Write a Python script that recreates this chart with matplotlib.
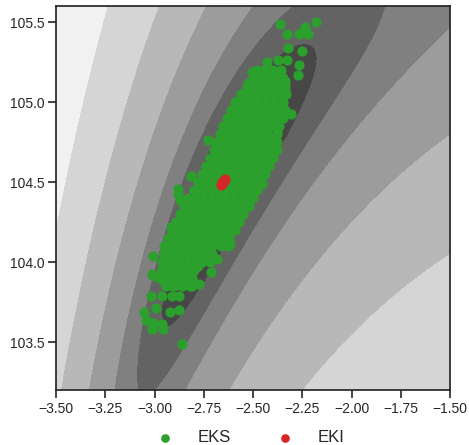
import numpy as np
import matplotlib
matplotlib.use("Agg")
import matplotlib.pyplot as plt
from matplotlib.colors import ListedColormap, BoundaryNorm

plt.rcParams['font.family'] = ['Liberation Sans', 'DejaVu Sans']

# ---------------- data ----------------
# forward model (Darcy-type toy problem) observation and noise
obs = [27.44, 79.68]
noise_sd = 0.1
coef = 0.09375
x_range = [-3.5, -1.5]
y_range = [103.2, 105.6]
# contour levels of the misfit (log-spaced bands)
phi_levels = [0.0, 0.98, 2.2, 4.9, 11.0, 22.8, 56.0, 126.0, 275.0, 1.0e4]

x_ticks = [-3.5, -3.25, -3.0, -2.75, -2.5, -2.25, -2.0, -1.75, -1.5]
y_ticks = [103.5, 104.0, 104.5, 105.0, 105.5]

# EKS ensemble: dense core (rows of equal y) and scattered outer points
eks_core_rows = [
    (105.20, [-2.48, -2.44, -2.40, -2.36]),
    (105.15, [-2.50, -2.46, -2.42, -2.38, -2.35]),
    (105.10, [-2.53, -2.49, -2.45, -2.41, -2.37, -2.34]),
    (105.05, [-2.56, -2.52, -2.48, -2.44, -2.40, -2.36, -2.33]),
    (105.00, [-2.59, -2.55, -2.51, -2.47, -2.43, -2.39, -2.35]),
    (104.95, [-2.61, -2.57, -2.53, -2.49, -2.45, -2.41, -2.37, -2.34]),
    (104.90, [-2.63, -2.59, -2.55, -2.51, -2.47, -2.43, -2.39, -2.35]),
    (104.85, [-2.65, -2.61, -2.57, -2.53, -2.49, -2.45, -2.41, -2.37]),
    (104.80, [-2.67, -2.63, -2.59, -2.55, -2.51, -2.47, -2.43, -2.38]),
    (104.75, [-2.69, -2.65, -2.61, -2.57, -2.53, -2.49, -2.45, -2.41, -2.38]),
    (104.70, [-2.70, -2.66, -2.62, -2.58, -2.54, -2.50, -2.46, -2.42, -2.38]),
    (104.65, [-2.72, -2.68, -2.64, -2.60, -2.56, -2.52, -2.48, -2.44, -2.40]),
    (104.60, [-2.74, -2.70, -2.66, -2.62, -2.58, -2.54, -2.50, -2.46, -2.42]),
    (104.55, [-2.76, -2.72, -2.68, -2.64, -2.60, -2.56, -2.52, -2.48, -2.44]),
    (104.50, [-2.78, -2.74, -2.70, -2.66, -2.62, -2.58, -2.54, -2.50, -2.46]),
    (104.45, [-2.80, -2.76, -2.72, -2.68, -2.64, -2.60, -2.56, -2.52, -2.48]),
    (104.40, [-2.83, -2.79, -2.75, -2.71, -2.67, -2.63, -2.59, -2.55, -2.50]),
    (104.35, [-2.85, -2.81, -2.77, -2.73, -2.69, -2.65, -2.61, -2.57, -2.52]),
    (104.30, [-2.87, -2.83, -2.79, -2.75, -2.71, -2.67, -2.63, -2.59, -2.55]),
    (104.25, [-2.89, -2.85, -2.81, -2.77, -2.73, -2.69, -2.65, -2.61, -2.57]),
    (104.20, [-2.91, -2.87, -2.83, -2.79, -2.75, -2.71, -2.67, -2.63, -2.59]),
    (104.15, [-2.93, -2.89, -2.85, -2.81, -2.77, -2.73, -2.69, -2.65, -2.62]),
    (104.10, [-2.95, -2.91, -2.87, -2.83, -2.79, -2.75, -2.71, -2.66]),
    (104.05, [-2.95, -2.91, -2.87, -2.83, -2.79, -2.75, -2.71]),
    (104.00, [-2.96, -2.92, -2.88, -2.84, -2.80, -2.76, -2.72]),
    (103.95, [-2.96, -2.92, -2.88, -2.84, -2.80]),
    (103.90, [-2.97, -2.93, -2.89, -2.85, -2.81]),
    (103.85, [-2.94, -2.90, -2.86, -2.82]),
]
eks_core_fill = [
    (105.175, [-2.46, -2.42, -2.38]),
    (105.075, [-2.53, -2.49, -2.45, -2.41, -2.37]),
    (104.975, [-2.58, -2.54, -2.50, -2.46, -2.42, -2.38]),
    (104.875, [-2.62, -2.58, -2.54, -2.50, -2.46, -2.42, -2.38]),
    (104.775, [-2.66, -2.62, -2.58, -2.54, -2.50, -2.46, -2.42]),
    (104.675, [-2.69, -2.65, -2.61, -2.57, -2.53, -2.49, -2.45, -2.41]),
    (104.575, [-2.73, -2.69, -2.65, -2.61, -2.57, -2.53, -2.49, -2.45]),
    (104.475, [-2.77, -2.73, -2.69, -2.61, -2.57, -2.53, -2.49]),
    (104.375, [-2.82, -2.78, -2.74, -2.70, -2.66, -2.62, -2.58, -2.54]),
    (104.275, [-2.86, -2.82, -2.78, -2.74, -2.70, -2.66, -2.62, -2.58]),
    (104.175, [-2.90, -2.86, -2.82, -2.78, -2.74, -2.70, -2.66]),
    (104.075, [-2.93, -2.89, -2.85, -2.81, -2.77, -2.73]),
    (103.975, [-2.94, -2.90, -2.86, -2.82, -2.78]),
    (103.875, [-2.95, -2.91, -2.87, -2.83]),
]
eks_outer_x = [-2.363, -2.236, -2.180, -2.326, -2.266, -2.219, -2.321, -2.253,
               -2.430, -2.372, -2.329, -2.266, -2.273, -2.507, -2.307, -2.586,
               -2.727, -2.816, -2.456, -2.422, -2.879, -2.918, -3.009, -3.014,
               -3.003, -3.019, -2.994, -3.053, -3.045, -3.014, -2.960, -2.955,
               -3.006, -2.862, -2.960, -2.921, -2.876, -2.876, -2.913, -2.715,
               -2.774, -2.811, -2.684, -2.625, -2.617, -2.557, -2.524, -2.430,
               -2.380, -2.354, -2.338, -2.338, -2.481, -2.524, -2.947, -2.955,
               -2.905, -2.913, -2.837, -2.769, -2.905, -2.871, -2.879]
eks_outer_y = [105.49, 105.47, 105.50, 105.425, 105.425, 105.425, 105.335, 105.32,
               105.25, 105.26, 105.26, 105.23, 105.17, 105.19, 104.925, 105.00,
               104.76, 104.54, 104.49, 104.65, 104.425, 104.22, 104.04, 103.925,
               103.915, 103.79, 103.71, 103.69, 103.64, 103.58, 103.61, 103.58,
               103.62, 103.49, 103.79, 103.69, 103.70, 103.79, 103.79, 103.935,
               103.86, 103.85, 104.02, 104.10, 104.11, 104.32, 104.39, 104.77,
               104.81, 104.90, 105.13, 105.08, 105.08, 105.12, 104.04, 103.98,
               103.85, 103.935, 103.945, 103.998, 104.155, 104.39, 104.456]

# EKI ensemble (collapsed near the mode)
eki_x = [-2.661, -2.657, -2.652, -2.647, -2.643, -2.655, -2.649]
eki_y = [104.479, 104.489, 104.500, 104.511, 104.521, 104.497, 104.504]

# ---------------- plot ----------------
all_rows = eks_core_rows + eks_core_fill
eks_x = [x for _, xs in all_rows for x in xs] + eks_outer_x
eks_y = [y for y, xs in all_rows for _ in xs] + eks_outer_y

gx = np.linspace(x_range[0], x_range[1], 500)
gy = np.linspace(y_range[0], y_range[1], 500)
X, Y = np.meshgrid(gx, gy)
A = coef * np.exp(-X)
r1 = 0.25 * Y + A - obs[0]
r2 = 0.75 * Y + A - obs[1]
PHI = 0.5 * (r1 ** 2 + r2 ** 2) / noise_sd ** 2

nb = len(phi_levels) - 1
band_cmap = ListedColormap([plt.cm.gray((2 * k + 1) / (2 * nb)) for k in range(nb)])
band_norm = BoundaryNorm(phi_levels, nb)

fig = plt.figure(figsize=(4.69, 4.45), dpi=100)
ax = fig.add_axes([56 / 469, 1 - 390 / 445, 394 / 469, 384 / 445])
ax.contourf(X, Y, PHI, levels=phi_levels, cmap=band_cmap, norm=band_norm)

ax.scatter(eks_x, eks_y, s=54, color='#2ca02c', linewidths=0, label='EKS', zorder=3)
ax.scatter(eki_x, eki_y, s=54, color='#d62728', linewidths=0, label='EKI', zorder=4)

ax.set_xlim(*x_range)
ax.set_ylim(*y_range)
ax.set_xticks(x_ticks)
ax.set_yticks(y_ticks)
ax.set_xticklabels([f"{v:.2f}".replace('-', '\u2212') for v in x_ticks])
ax.set_yticklabels([f"{v:.1f}" for v in y_ticks])
ax.tick_params(direction='out', length=5.5, width=1.2, labelsize=10,
               colors='#262626', pad=3)
for sp in ax.spines.values():
    sp.set_linewidth(1.25)
    sp.set_color('#262626')

fig.legend(loc='center', bbox_to_anchor=(246.5 / 469, 1 - 437.5 / 445), ncol=2,
           frameon=False, fontsize=12, markerscale=0.85, columnspacing=2.2,
           handletextpad=1.0, labelcolor='#262626')

fig.savefig('out.png', dpi=100)
